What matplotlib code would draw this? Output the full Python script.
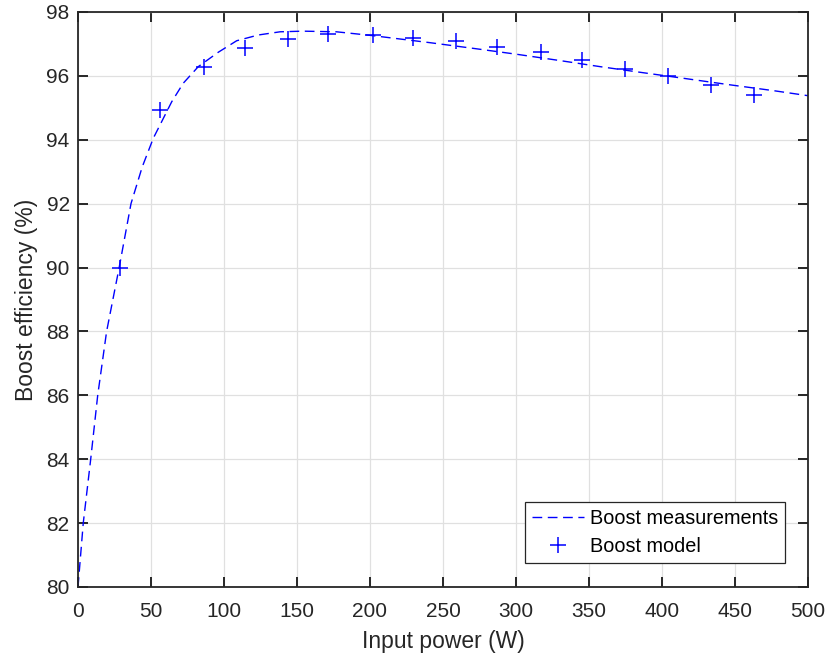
import matplotlib
matplotlib.use('Agg')
import matplotlib.pyplot as plt

plt.rcParams['font.family'] = ['Liberation Sans', 'DejaVu Sans']

meas_p = [0, 3.6, 8.7, 13.5, 19.6, 28.2, 36.3, 44, 51.6, 64.2, 72.1, 82.4, 96.1,
          108.7, 123.5, 138.4, 154, 177, 200, 241, 271, 300, 330, 357.5, 387,
          417, 446.6, 476, 500]
meas_eff = [80.0, 82.0, 84.0, 86.0, 88.0, 90.0, 92.0, 93.15, 94.05, 95.19, 95.77, 96.29, 96.74,
            97.10, 97.28, 97.38, 97.40, 97.38, 97.27, 97.04, 96.86, 96.68, 96.48, 96.29, 96.10,
            95.91, 95.72, 95.54, 95.38]

# model points
model_p = [28.8, 56.2, 86.3, 114.4, 143.8, 171, 202, 229.5, 259, 287, 317, 345,
           374.7, 404, 433.6, 463]
model_eff = [89.98, 94.93, 96.29, 96.86, 97.15, 97.32, 97.28, 97.18, 97.1, 96.9,
             96.74, 96.5, 96.22, 96.0, 95.71, 95.4]

fig = plt.figure(figsize=(8.28, 6.59), dpi=100)
ax = fig.add_axes([0.0942, 0.1093, 0.8816, 0.8725])

ax.plot(meas_p, meas_eff, '--', color='#0000ff', lw=1.0, dashes=(7, 4),
        label='Boost measurements')
ax.plot(model_p, model_eff, '+', color='#0000ff', ms=11, mew=1.1, ls='none',
        label='Boost model')

ax.set_xlim(0, 500)
ax.set_ylim(80, 98)
ax.set_xticks(range(0, 501, 50))
ax.set_yticks(range(80, 99, 2))
ax.grid(True, color='#e0e0e0', lw=0.9)
ax.set_axisbelow(True)
ax.tick_params(direction='in', length=7.5, width=1.4, top=True, right=True,
               labelsize=15, colors='#262626')
ax.tick_params(axis='x', pad=11)
ax.tick_params(axis='y', pad=6)
for s in ax.spines.values():
    s.set_color('#262626')
    s.set_linewidth(1.3)

ax.set_xlabel('Input power (W)', fontsize=16.5, color='#262626', labelpad=6)
ax.set_ylabel('Boost efficiency (%)', fontsize=16.5, color='#262626', labelpad=6)

leg = ax.legend(loc='lower right', bbox_to_anchor=(0.9685, 0.042), borderaxespad=0,
                fontsize=14.3, fancybox=False, framealpha=1, edgecolor='#262626',
                handlelength=2.6, handletextpad=0.3, borderpad=0.35, labelspacing=0.45)
leg.get_frame().set_linewidth(0.9)

fig.savefig('out.png', dpi=100)
